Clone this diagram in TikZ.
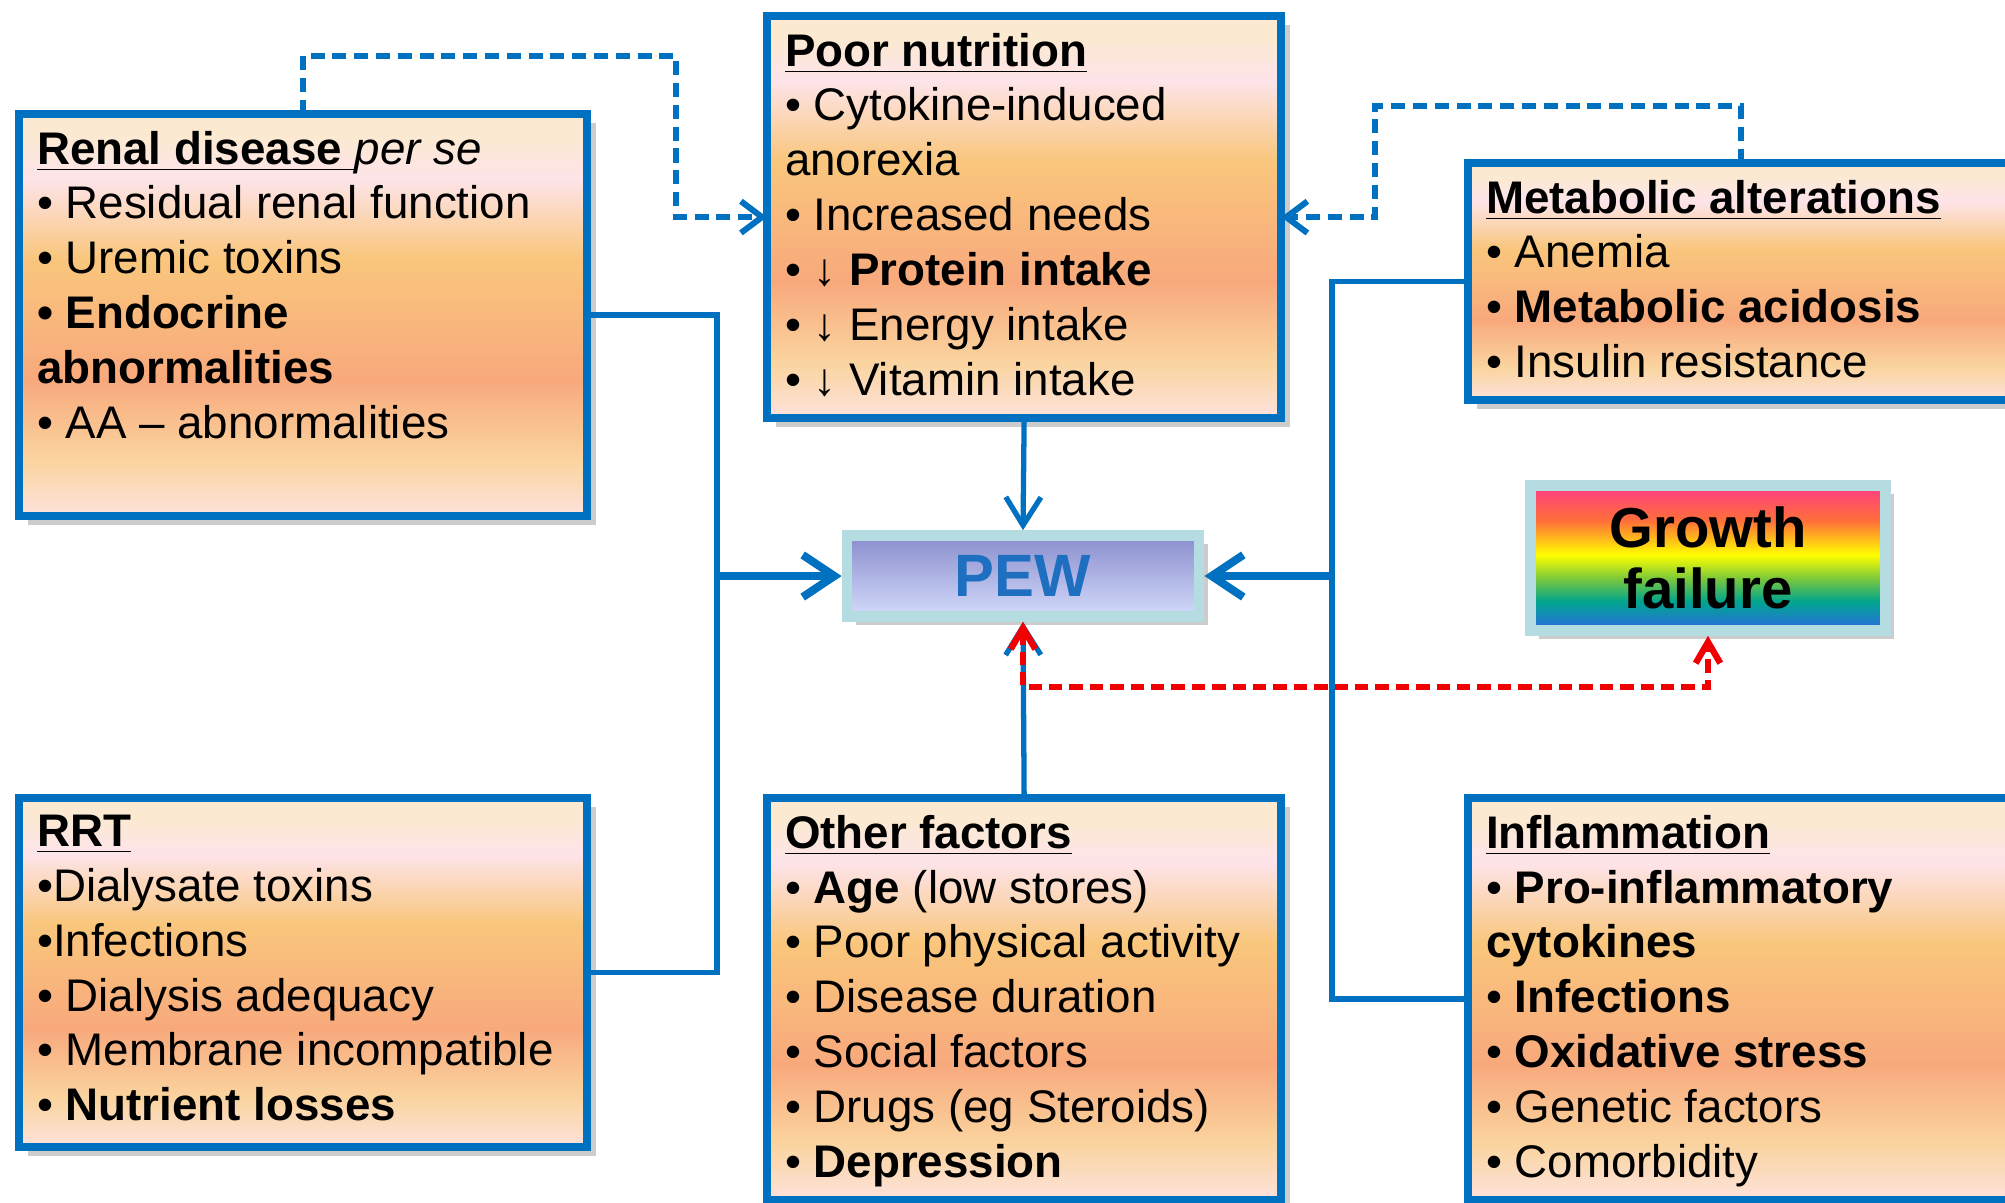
\documentclass[tikz,border=0pt]{standalone}
\usepackage{fontspec}
\setmainfont{Liberation Sans}
\usetikzlibrary{arrows.meta,shadows}

\definecolor{linkblue}{HTML}{0070C0}
\definecolor{peachcream}{HTML}{FCE9D2}
\definecolor{peachpink}{HTML}{FDE4EA}
\definecolor{peachorange}{HTML}{F9C67C}
\definecolor{peachsalmon}{HTML}{F8A97C}
\definecolor{peachlight}{HTML}{FAD49F}
\definecolor{peachbottom}{HTML}{FDE2DC}
\definecolor{pewrim}{HTML}{B5DDE1}
\definecolor{pewtop}{HTML}{8A8DCD}
\definecolor{pewmid}{HTML}{C9D0F5}
\definecolor{pewbottom}{HTML}{D3DBFB}
\definecolor{pewtext}{HTML}{1E6FC0}
\definecolor{gfpink}{HTML}{FF3D84}
\definecolor{gforange}{HTML}{FF6E3A}
\definecolor{gfyellow}{HTML}{FFFF00}
\definecolor{gfgreen}{HTML}{7CC83B}
\definecolor{gfteal}{HTML}{00A58E}
\definecolor{gfblue}{HTML}{2E6BE6}
\definecolor{failred}{HTML}{F00000}

\pgfdeclareverticalshading{peach}{100bp}{color(0bp)=(peachbottom); color(25bp)=(peachbottom); color(32bp)=(peachlight); color(42bp)=(peachsalmon); color(57bp)=(peachorange); color(67bp)=(peachpink); color(72bp)=(peachcream); color(100bp)=(peachcream)}
\pgfdeclareverticalshading{rainbow}{100bp}{color(0bp)=(gfblue); color(25bp)=(gfblue); color(35bp)=(gfteal); color(43bp)=(gfgreen); color(51bp)=(gfyellow); color(63bp)=(gforange); color(75bp)=(gfpink); color(100bp)=(gfpink)}

\newcommand{\facts}[3]{\parbox[c][#2][t]{#1}{\fontsize{13pt}{15.6pt}\selectfont\raggedright #3}}
\newcommand{\head}[1]{\underline{\textbf{#1}}}

\tikzstyle{factor}=[draw=linkblue, line width=2.3pt, shading=peach, anchor=north west, inner xsep=0.18cm, inner ysep=0.17cm, outer sep=0pt, drop shadow={shadow xshift=2.5pt, shadow yshift=-2.5pt, opacity=0.4}]
\tikzstyle{outcome}=[draw=pewrim, line width=3pt, drop shadow={shadow xshift=2.5pt, shadow yshift=-2.5pt, opacity=0.4}]
\tikzstyle{link} = [draw=linkblue, line width=1.5pt]
\tikzstyle{arrow} = [link, -{Straight Barb[length=8pt, width=10pt]}]
\tikzstyle{bigarrow} = [draw=linkblue, line width=2.3pt, -{Straight Barb[length=9pt, width=12pt]}]
\tikzstyle{feedback} = [link, line width=1.7pt, dash pattern=on 4pt off 2.2pt, -{Straight Barb[length=6pt, width=9pt]}]
\tikzstyle{growtharrow} = [draw=failred, line width=1.8pt, dash pattern=on 3.8pt off 2pt, {Straight Barb[length=6pt, width=7pt]}-{Straight Barb[length=6pt, width=7pt]}]

\begin{document}
\begin{tikzpicture}[x=0.01cm, y=-0.01cm]
    \path[use as bounding box, fill=white] (0,0) rectangle (2005,1203);

    % First the boxes of causes
    \node[factor] (renal) at (19,114) {\facts{5.32cm}{3.68cm}{\head{Renal disease\ }\textit{per se}\\
        • Residual renal function\\
        • Uremic toxins\\
        \textbf{• Endocrine}\\
        \textbf{abnormalities}\\
        • AA – abnormalities}};
    \node[factor] (poornut) at (767,16) {\facts{4.78cm}{3.68cm}{\head{Poor nutrition}\\
        • Cytokine-induced\\
        anorexia\\
        • Increased needs\\
        • ↓ \textbf{Protein intake}\\
        • ↓ Energy intake\\
        • ↓ Vitamin intake}};
    \node[factor] (metab) at (1468,163) {\facts{5.09cm}{2.03cm}{\head{Metabolic alterations}\\
        • Anemia\\
        • \textbf{Metabolic acidosis}\\
        • Insulin resistance}};
    \node[factor] (rrt) at (19,798) {\facts{5.32cm}{3.15cm}{\head{RRT}\\
        •Dialysate toxins\\
        •Infections\\
        • Dialysis adequacy\\
        • Membrane incompatible\\
        • \textbf{Nutrient losses}}};
    \node[factor] (other) at (767,798) {\facts{4.78cm}{3.68cm}{\head{Other factors}\\
        • \textbf{Age} (low stores)\\
        • Poor physical activity\\
        • Disease duration\\
        • Social factors\\
        • Drugs (eg Steroids)\\
        • \textbf{Depression}}};
    \node[factor] (inflam) at (1468,798) {\facts{5.09cm}{3.68cm}{\head{Inflammation}\\
        • \textbf{Pro-inflammatory}\\
        \textbf{cytokines}\\
        • \textbf{Infections}\\
        • \textbf{Oxidative stress}\\
        • Genetic factors\\
        • Comorbidity}};

    % PEW and growth failure
    \node[outcome, minimum width=3.52cm, minimum height=0.81cm, top color=pewtop, middle color=pewmid, bottom color=pewbottom, text=pewtext, font=\bfseries\fontsize{17pt}{20pt}\selectfont] (pew) at (1023,576) {PEW};
    \node[outcome, minimum width=3.55cm, minimum height=1.45cm, shading=rainbow, align=center, font=\bfseries\fontsize{16pt}{17.5pt}\selectfont] (growth) at (1708,558) {Growth\\failure};

    \coordinate (leftbus) at (717,576);
    \coordinate (rightbus) at (1332,576);

    % Connect the causes with PEW
    \draw[feedback] (renal.north) |- (676,56) |- (poornut.west);
    \draw[feedback] (metab.north) |- (1375,106) |- (poornut.east);
    \draw[link] (renal.east) -| (leftbus) |- (rrt.east);
    \draw[link] (metab.west) -| (rightbus) |- (inflam.west);
    \draw[bigarrow] (leftbus) -- (pew.west);
    \draw[bigarrow] (rightbus) -- (pew.east);
    \draw[arrow] (poornut.south) -- (pew.north);
    \draw[arrow] (other.north) -- (pew.south);
    \draw[growtharrow] (pew.south) -- ++(0,65) -| (growth.south);
\end{tikzpicture}
\end{document}
